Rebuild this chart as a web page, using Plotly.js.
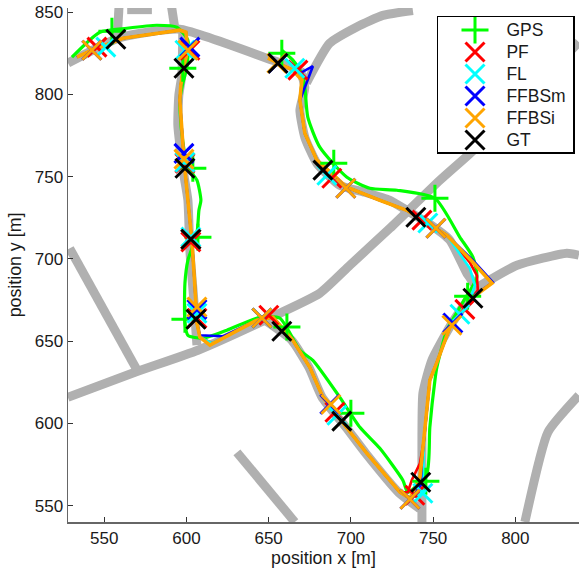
<!DOCTYPE html>
<html><head><meta charset="utf-8">
<script src="https://cdn.plot.ly/plotly-3.0.1.min.js"></script>
<style>html,body{margin:0;padding:0;background:#fff}</style></head>
<body><div id="chart" style="width:579px;height:571px"></div>
<script>
// Road network (metres)
const roads = [
 [[528,559.5,596,652.5,669],[819,834.5,839.6,820.7,815.3]],
 [[673,687,703.6,719.4,737.7],[807,831,841,848,851]],
 [[559,558],[853,835]],
 [[591,593],[853,840]],
 [[564,579],[851.5,851.5]],
 [[597.8,597.2,595.4,594.8,598.5,600.9,602.1,604.5,606.4],[839,811.6,799.5,781.2,750.8,735.6,705.2,674.8,647.5]],
 [[527.9,568.7,607,647.7,681.1,699.4,723.7,754.1,776.6,838.6],[615.8,631,644.4,662.7,679.1,696.1,718.6,747.8,767.9,831.7]],
 [[529,570],[706.4,632.3]],
 [[669,672,669,672,679.3,693.3,708.5,723.7,734,748,760.2,770.5,777.2,774.2,761.4,749.2,743.8,743.2,743.2],[815.3,804.3,790.4,773.9,758.1,744.7,740.5,735.6,729.5,721,711.3,691.2,680.9,679.1,660.8,638.3,618.3,577.5,540]],
 [[777,801,831.3,838.6],[682.7,696.1,703.4,702.2]],
 [[647.7,664,674.5,682.5,697,709,729,742],[662.7,650.5,634,615.8,597.6,581.8,558,548]],
 [[630.7,665.9],[582.4,540]],
 [[805.8,819.8,838.6],[540,594.6,617]]
];

// Shared stretches of the estimated tracks
const segAx = [533.4,542.5,561.4,596,599.7,600.9,598.5,596.6,596,597.2,598.5,600.3,603.3,605.1,606.4];
const segAy = [822.6,826.8,834.1,839,837.8,826.8,817.7,805.5,796.4,776.3,760,741.7,711.3,684,660.8];
const segBx = [642.8,652.6,664.7,675,683,697.6,709.7,729.8];
const segBy = [662.7,664.5,650.5,634.1,615.8,597.6,581.8,558.1];
const segCx = [744.4,746.2,748,752.3,760.2];
const segCy = [589.7,607.9,626.2,637.1,658.4];
const segDx = [758.4,742,734,717.6,697.6,679.3,672,669];
const segDy = [714.3,724.7,729.5,735.6,743.5,760,776.3,796.4];

// GPS track
const gpsLineX = [530.4,547.4,563.8,582,594.2,600.9,600.3,597.8,596,597.2,600.9,606.4,608.8,607.6,606.4,600.9,599.1,599.1,600.9,610,624.6,644.7,656.8,669,676.9,693.3,705.5,717.6,731.6,734.6,746.2,748,751.1,752.3,758.4,768.1,776.6,774.2,766.3,751.1,728,711.5,697.6,681.1,673.8,672,670.2,664.7,658];
const gpsLineY = [822.6,837.8,840.2,842,840.8,832.9,816.5,806.8,796.4,776.3,755.7,747.8,735.6,729.5,715.5,699.1,685.2,660.8,653.5,651.7,656.6,664.5,663.9,644.4,638.3,615.8,597.6,584.8,565.4,558.1,569.7,597.6,626.2,634.1,656.6,673.6,688.8,701,713.1,736.8,741.7,742.9,749.6,767.9,786.1,804.3,812.8,820.8,826.8];

// Track pieces that differ between estimators
const pfX = [...segAx,608.2,615.5,...segBx,734.6,737,742,...segCx,772.3,777.2,776.6,772.3,...segDx,670.2,666.5];
const pfY = [...segAy,652.3,648.7,...segBy,558.1,565.4,575.7,...segCy,674.8,680.9,690,697.9,...segDy,808.6,813.4];
const flX = [...segAx,608.2,615.5,...segBx,735.9,743.8,...segCx,772.3,775.4,772.3,...segDx,670.2,665.9];
const flY = [...segAy,652.3,648.7,...segBy,554.4,557.5,...segCy,674.8,684,694.3,...segDy,808.6,815.9];
const ffbsmX = [...segAx,608.2,622.2,...segBx,735.9,742.5,743.2,...segCx,774.2,786.3,774.8,...segDx,671.4,676.9,669,655.6];
const ffbsmY = [...segAy,653.5,652.9,...segBy,554.4,562.3,577.5,...segCy,677.3,685.8,698.5,...segDy,802.5,817.1,812.8,818.9];
const ffbsiX = [...segAx,608.2,614.3,...segBx,735.9,742,...segCx,774.2,785.8,774.2,...segDx,670.2,664.7,655.6,649.5];
const ffbsiY = [...segAy,652.3,647.5,...segBy,554.4,567.2,...segCy,676.6,685.2,697.9,...segDy,808.6,814.7,818.9,822];

// Estimates at 12 time steps
const gpsPtX = [554.7,597.8,603.9,607,599.1,661.1,700,745.6,771,751.1,689.6,658];
const gpsPtY = [838.4,815.9,755.1,713.1,663.3,658.5,606.1,564.8,677.3,736.8,758.1,825];
const pfPtX = [545.6,602.1,599.1,602.7,606.4,650.1,690.3,738.9,769.3,743.2,688.4,667.8];
const pfPtY = [828.7,826.8,758.1,710.3,663.9,665.7,606.7,556.3,669.3,723.5,749,814.7];
const flPtX = [551,599.1,599.1,602.7,606.4,645.9,691.5,743.8,766.3,746.8,685.4,665.9];
const flPtY = [828.7,826.8,758.7,713.2,666.9,664,604.9,557.5,666.3,721.8,750.8,815.9];
const ffbsmPtX = [542.5,602.1,598.5,602.7,606.4,645.9,687.2,735.9,762,751.7,696.9,655.6];
const ffbsmPtY = [826.8,828.7,764.1,711.9,669.3,664,611.6,553.8,661,718.6,742.9,818.9];
const ffbsiPtX = [542.5,600.9,598.5,602.7,606.4,645.9,687.8,735.9,761.4,751.7,696.9,655];
const ffbsiPtY = [826.8,826.8,760.6,711.9,670.7,664,611.6,553.8,659.6,718.6,742.9,818.9];
const gtPtX = [557.1,598.5,599.1,602.7,605.8,658,694.5,742.5,774.2,739.5,683,655.6];
const gtPtY = [833.5,815.9,755.1,711.9,663.3,656,601.3,564.2,676,725.3,753.9,818.9];

const legendNames = ['GPS','PF','FL','FFBSm','FFBSi','GT'];
const legendRows = [6,5,4,3,2,1];
const legendTextRows = [5.94,4.94,3.94,2.94,1.94,0.94];
const colors = ['#00ff00','#ff0000','#00ffff','#0000ff','#ffa500','#000000'];
const tickVals = [550,600,650,700,750,800,850];

const FONT = 'Liberation Sans, Arial, sans-serif';
const traces = [];
roads.forEach(r => traces.push({x:r[0],y:r[1],mode:'lines',showlegend:false,hoverinfo:'skip',
  line:{color:'#b0b0b0',width:9,shape:'spline',smoothing:0.5}}));
const lines = [[gpsLineX,gpsLineY,'spline',3.2],[pfX,pfY,'linear',2.6],[flX,flY,'linear',2.6],[ffbsmX,ffbsmY,'linear',2.6],[ffbsiX,ffbsiY,'linear',3.6]];
lines.forEach((l,i) => traces.push({x:l[0],y:l[1],mode:'lines',showlegend:false,
  line:{color:colors[i],width:l[3],shape:l[2],smoothing:0.6}}));
const pts = [[gpsPtX,gpsPtY],[pfPtX,pfPtY],[flPtX,flPtY],[ffbsmPtX,ffbsmPtY],[ffbsiPtX,ffbsiPtY],[gtPtX,gtPtY]];
pts.forEach((p,i) => traces.push({x:p[0],y:p[1],mode:'markers',name:legendNames[i],showlegend:false,
  marker:{symbol:i===0?'cross-thin-open':'x-thin-open',size:i===0?19.3:19,line:{color:colors[i],width:3},color:colors[i]}}));
// Inset key
legendNames.forEach((n,i) => traces.push({x:[0.925],y:[legendRows[i]],xaxis:'x2',yaxis:'y2',mode:'markers',showlegend:false,hoverinfo:'skip',
  marker:{symbol:i===0?'cross-thin-open':'x-thin-open',size:i===0?19.3:19,line:{color:colors[i],width:3},color:colors[i]}}));
traces.push({x:legendNames.map(()=>1.71),y:legendTextRows,xaxis:'x2',yaxis:'y2',mode:'text',text:legendNames,textposition:'middle right',
  showlegend:false,hoverinfo:'skip',textfont:{family:FONT,size:17.5,color:'#1a1a1a'}});

const layout = {
  width:579,height:571,margin:{l:68,r:0,t:8,b:49},
  paper_bgcolor:'#fff',plot_bgcolor:'#fff',showlegend:false,
  font:{family:FONT,size:17,color:'#1a1a1a'},
  xaxis:{range:[528,838.7],tickvals:tickVals,ticks:'inside',ticklen:5,tickwidth:1,tickcolor:'#333',
    showgrid:false,zeroline:false,showline:true,linecolor:'#666',linewidth:1.5,
    title:{text:'position x [m]',standoff:4,font:{size:17.8}},tickfont:{size:17}},
  yaxis:{range:[540,852.5],tickvals:tickVals,ticks:'inside',ticklen:5,tickwidth:1,tickcolor:'#333',
    showgrid:false,zeroline:false,showline:true,linecolor:'#666',linewidth:1.5,
    title:{text:'position y [m]',standoff:8,font:{size:17.8}},tickfont:{size:17}},
  xaxis2:{domain:[370/511,505/511],range:[0,3.375],anchor:'y2',fixedrange:true,showgrid:false,zeroline:false,showticklabels:false,ticks:'',
    showline:true,mirror:true,linecolor:'#000',linewidth:1.5},
  yaxis2:{domain:[370/514,505/514],range:[0.455,6.59],anchor:'x2',fixedrange:true,showgrid:false,zeroline:false,showticklabels:false,ticks:'',
    showline:true,mirror:true,linecolor:'#000',linewidth:1.5}
};
Plotly.newPlot('chart',traces,layout,{displayModeBar:false,staticPlot:true});
</script></body></html>
